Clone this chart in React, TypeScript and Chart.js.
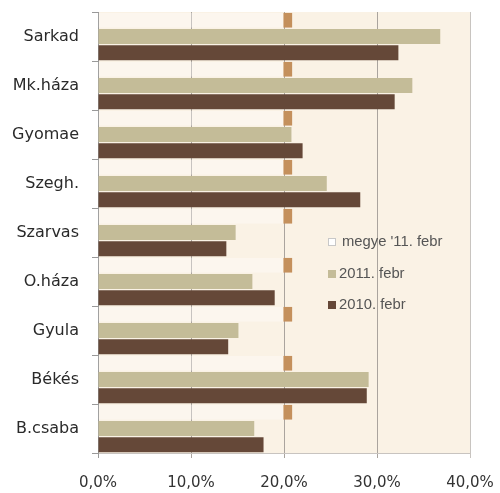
import React, { useEffect, useRef } from "react";
import { Chart, registerables } from "chart.js";

Chart.register(...registerables);

const categories = ["Sarkad", "Mk.háza", "Gyomae", "Szegh.", "Szarvas", "O.háza", "Gyula", "Békés", "B.csaba"];
const megye11 = [20.9, 20.9, 20.9, 20.9, 20.9, 20.9, 20.9, 20.9, 20.9];
const febr2011 = [36.8, 33.8, 20.8, 24.6, 14.8, 16.6, 15.1, 29.1, 16.8];
const febr2010 = [32.3, 31.9, 22.0, 28.2, 13.8, 19.0, 14.0, 28.9, 17.8];
const xTicks = [0, 10, 20, 30, 40];
const seriesLabels = ["megye '11. febr", "2011. febr", "2010. febr"];

const plotBg = {
  id: "plotBg",
  beforeDraw(chart: any) {
    const { ctx, chartArea } = chart;
    ctx.save();
    ctx.fillStyle = "#faf2e5";
    ctx.fillRect(chartArea.left, chartArea.top, chartArea.right - chartArea.left, chartArea.bottom - chartArea.top);
    ctx.restore();
  },
};

const insideLegend = {
  id: "insideLegend",
  afterDraw(chart: any) {
    const { ctx } = chart;
    const x = 328;
    const rows = [242, 274, 305];
    const fills = ["#ffffff", "#c4bc98", "#654838"];
    const strokes = ["#c8c8c8", "#c4bc98", "#654838"];
    ctx.save();
    ctx.font = "14.8px 'Liberation Sans', Arial, sans-serif";
    ctx.textBaseline = "middle";
    chart.data.datasets.forEach((ds: any, i: number) => {
      const y = rows[i];
      ctx.fillStyle = fills[i];
      ctx.fillRect(x, y - 4, 8, 8);
      ctx.strokeStyle = strokes[i];
      ctx.lineWidth = 1;
      ctx.strokeRect(x + 0.5, y - 3.5, 7, 7);
      ctx.fillStyle = "#555555";
      ctx.fillText(ds.label, x + (i === 0 ? 14 : 11), y);
    });
    ctx.restore();
  },
};

export default function App() {
  const ref = useRef<HTMLCanvasElement | null>(null);
  useEffect(() => {
    if (!ref.current) return;
    const chart = new Chart(ref.current, {
      type: "bar",
      data: {
        labels: categories,
        datasets: [
          {
            label: seriesLabels[0],
            data: megye11,
            backgroundColor: "rgba(255,255,255,0.35)",
            borderColor: "#c4905c",
            borderWidth: { left: 0, top: 0, bottom: 0, right: 9 },
            borderSkipped: false,
          },
          { label: seriesLabels[1], data: febr2011, backgroundColor: "#c4bc98" },
          { label: seriesLabels[2], data: febr2010, backgroundColor: "#654838" },
        ],
      },
      options: {
        indexAxis: "y",
        responsive: true,
        maintainAspectRatio: false,
        animation: false,
        layout: { padding: { top: 12, right: 30, left: 0, bottom: 0 } },
        datasets: { bar: { barPercentage: 0.92, categoryPercentage: 1 } },
        plugins: { legend: { display: false }, tooltip: { enabled: false } },
        scales: {
          x: {
            min: 0,
            max: 40,
            afterBuildTicks(scale: any) {
              scale.ticks = xTicks.map((v) => ({ value: v }));
            },
            afterFit(scale: any) {
              scale.height = 40;
              scale.paddingLeft = 0;
              scale.paddingRight = 0;
            },
            ticks: {
              padding: 16,
              color: "#333333",
              font: { family: "'DejaVu Sans', sans-serif", size: 15 },
              callback: (v: any) => Number(v).toFixed(1).replace(".", ",") + "%",
            },
            grid: {
              color: (c: any) => (c.tick && c.tick.value === 40 ? "#c8c4c0" : c.tick && c.tick.value === 0 ? "#999999" : "#aaa49e"),
              tickLength: 5,
            },
            border: { color: "#c8c4c0" },
          },
          y: {
            afterFit(scale: any) {
              scale.width = 98;
              scale.paddingTop = 0;
              scale.paddingBottom = 0;
            },
            ticks: {
              padding: 13,
              color: "#2a2a2a",
              font: { family: "'DejaVu Sans', sans-serif", size: 16 },
            },
            grid: { offset: true, drawOnChartArea: false, tickLength: 6, color: "#999999" },
            border: { color: "#999999" },
          },
        },
      },
      plugins: [plotBg, insideLegend],
    } as any);
    return () => chart.destroy();
  }, []);
  return (
    <div style={{ position: "fixed", left: 0, top: 0, width: 500, height: 493, background: "#ffffff" }}>
      <canvas ref={ref} />
    </div>
  );
}
